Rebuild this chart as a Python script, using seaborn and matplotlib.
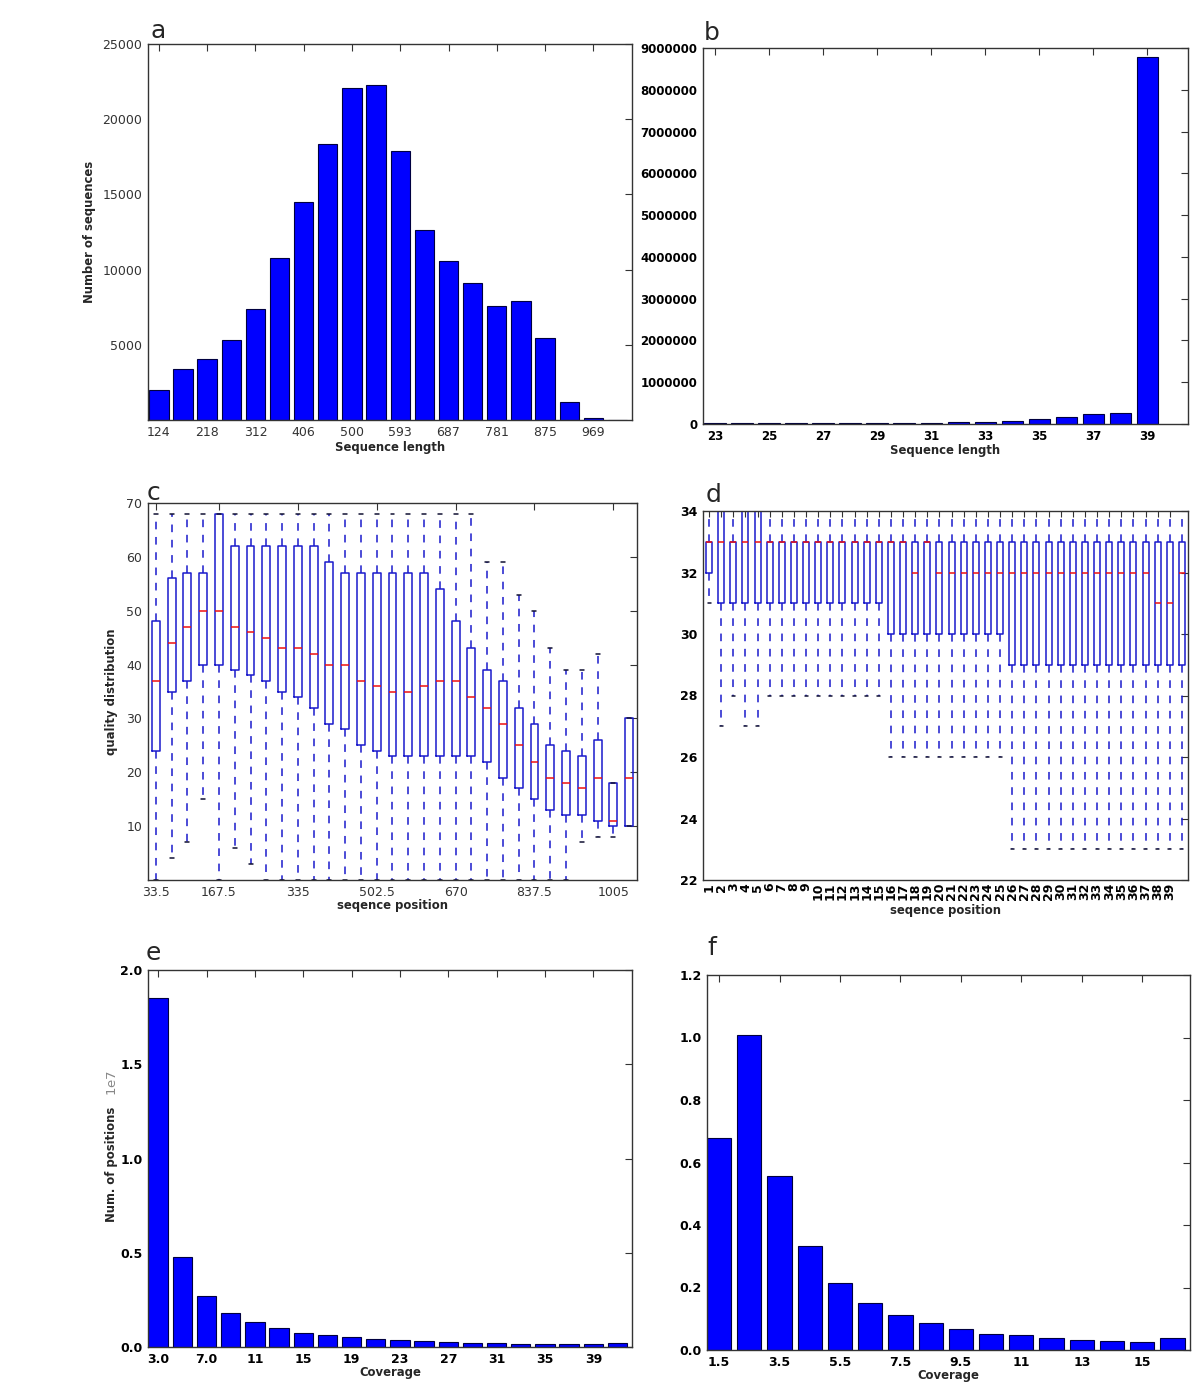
import numpy as np
import pandas as pd
import matplotlib
matplotlib.use("Agg")
import matplotlib.pyplot as plt
import seaborn as sns

# ---------------- data ----------------
# panel a: sequence length histogram (20 bins)
a_tick_labels = ['124', '218', '312', '406', '500', '593', '687', '781', '875', '969']
a_counts = [1970, 3400, 4050, 5350, 7370, 10750, 14500, 18380, 22060, 22300,
            17880, 12650, 10580, 9140, 7610, 7880, 5460, 1190, 110, 20]

# panel b: read length counts 23..39
b_lengths = list(range(23, 40))
b_counts = [15000, 25000, 28000, 28000, 30000, 30000, 30000, 32000, 35000,
            50000, 55000, 80000, 125000, 170000, 250000, 270000, 8780000]

# panel c: quality per position (five-number summaries), 31 positions
c_tick_labels = ['33.5', '167.5', '335', '502.5', '670', '837.5', '1005']
c_low = [0, 4, 7, 15, 0, 6, 3, 0, 0, 0, 0, 0, 0, 0, 0, 0, 0, 0, 0, 0,
         0, 0, 0, 0, 0, 0, 0, 7, 8, 8, 10]
c_q1 = [24, 35, 37, 40, 40, 39, 38, 37, 35, 34, 32, 29, 28, 25, 24, 23, 23, 23, 23, 23,
        23, 22, 19, 17, 15, 13, 12, 12, 11, 10, 10]
c_med = [37, 44, 47, 50, 50, 47, 46, 45, 43, 43, 42, 40, 40, 37, 36, 35, 35, 36, 37, 37,
         34, 32, 29, 25, 22, 19, 18, 17, 19, 11, 19]
c_q3 = [48, 56, 57, 57, 68, 62, 62, 62, 62, 62, 62, 59, 57, 57, 57, 57, 57, 57, 54, 48,
        43, 39, 37, 32, 29, 25, 24, 23, 26, 18, 30]
c_high = [68, 68, 68, 68, 68, 68, 68, 68, 68, 68, 68, 68, 68, 68, 68, 68, 68, 68, 68, 68,
          68, 59, 59, 53, 50, 43, 39, 39, 42, 18, 30]

# panel d: quality per position (five-number summaries), 40 positions
d_tick_labels = [str(i) for i in range(1, 40)]
d_low = [31, 27, 28, 27, 27] + [28] * 10 + [26] * 10 + [23] * 15
d_q1 = [32] + [31] * 14 + [30] * 10 + [29] * 15
d_med = [33] * 17 + [32, 33] + [32] * 18 + [31, 31, 32]
d_q3 = [33, 34, 33, 34, 34] + [33] * 35
d_high = [34] * 40

# panel e: coverage distribution
e_tick_labels = ['3.0', '7.0', '11', '15', '19', '23', '27', '31', '35', '39']
e_counts = [18520000, 4760000, 2720000, 1810000, 1330000, 996000, 747000, 622000,
            516000, 410000, 370000, 340000, 280000, 230000, 230000, 180000, 180000,
            180000, 140000, 200000]

# panel f: coverage distribution
f_tick_labels = ['1.5', '3.5', '5.5', '7.5', '9.5', '11', '13', '15']
f_values = [0.680, 1.007, 0.558, 0.3325, 0.213, 0.150, 0.113, 0.0874, 0.067, 0.052,
            0.047, 0.038, 0.033, 0.028, 0.0245, 0.038]

# ---------------- style ----------------
sns.set_style("white")
plt.rcParams['font.family'] = ['DejaVu Sans']
BAR = '#0000ff'
EDGE = '#000040'
SPINE = '#333333'

fig = plt.figure(figsize=(12, 13.97), dpi=100)
W, H = 1200.0, 1397.0


def axes_px(left, top, right, bottom):
    return fig.add_axes([left / W, 1 - bottom / H, (right - left) / W, (bottom - top) / H])


def style_axes(ax, bold, size):
    for s in ax.spines.values():
        s.set_visible(True)
        s.set_color(SPINE)
        s.set_linewidth(1.0)
    ax.tick_params(which='both', direction='in', top=True, right=True,
                   length=5, width=0.8, color=SPINE, labelsize=size,
                   labelcolor='#333333' if not bold else 'black', pad=4)
    for lab in ax.get_xticklabels() + ax.get_yticklabels():
        lab.set_fontweight('bold' if bold else 'normal')


def bars(ax, values):
    df = pd.DataFrame({'i': list(range(len(values))), 'v': values})
    sns.barplot(data=df, x='i', y='v', color=BAR, saturation=1, width=0.8,
                edgecolor=EDGE, linewidth=0.8, errorbar=None, ax=ax)
    ax.set_xlabel('')
    ax.set_ylabel('')


def boxes(ax, low, q1, med, q3, high, width):
    rows = []
    for i, vals in enumerate(zip(low, q1, med, q3, high)):
        for v in vals:
            rows.append((i, v))
    df = pd.DataFrame(rows, columns=['pos', 'q'])
    sns.boxplot(data=df, x='pos', y='q', fill=False, color='#1a1acc', width=width,
                whis=(0, 100), showfliers=False, linewidth=1.1,
                medianprops={'color': '#ee1111', 'linewidth': 1.1},
                whiskerprops={'color': '#1a1acc', 'linestyle': (0, (5, 5)), 'linewidth': 1.1},
                capprops={'color': '#111133', 'linewidth': 1.1},
                ax=ax)
    ax.set_xlabel('')
    ax.set_ylabel('')


lab_kw = dict(fontsize=8.4, fontweight='bold')

# ---- a ----
ax = axes_px(148, 44, 632, 420)
bars(ax, a_counts)
ax.set_xlim(-0.45, len(a_counts) - 0.4)
ax.set_ylim(0, 25000)
ax.set_yticks([5000, 10000, 15000, 20000, 25000])
ax.set_yticklabels(['5000', '10000', '15000', '20000', '25000'])
ax.set_xticks(list(range(0, len(a_counts), 2)))
ax.set_xticklabels(a_tick_labels)
style_axes(ax, False, 9)
ax.set_xlabel('Sequence length', labelpad=2, **lab_kw)
ax.set_ylabel('Number of sequences', labelpad=5, **lab_kw)

# ---- b ----
ax = axes_px(703, 48, 1188, 424)
bars(ax, b_counts)
ax.set_xlim(-0.45, len(b_counts) + 0.5)
ax.set_ylim(0, 9000000)
ax.set_yticks(list(range(0, 9000001, 1000000)))
ax.set_yticklabels([str(v) for v in range(0, 9000001, 1000000)])
ax.set_xticks(list(range(0, len(b_counts), 2)))
ax.set_xticklabels([str(v) for v in b_lengths[::2]])
style_axes(ax, True, 8.5)
ax.set_xlabel('Sequence length', labelpad=1, **lab_kw)

# ---- c ----
ax = axes_px(148, 503, 637, 880)
boxes(ax, c_low, c_q1, c_med, c_q3, c_high, 0.5)
ax.set_xlim(-0.5, len(c_low) - 0.5)
ax.set_ylim(0, 70)
ax.set_yticks([10, 20, 30, 40, 50, 60, 70])
ax.set_yticklabels(['10', '20', '30', '40', '50', '60', '70'])
ax.set_xticks([0, 4, 9, 14, 19, 24, 29])
ax.set_xticklabels(c_tick_labels)
style_axes(ax, False, 9)
ax.set_xlabel('seqence position', labelpad=0, **lab_kw)
ax.set_ylabel('quality distribution', labelpad=6, **lab_kw)

# ---- d ----
ax = axes_px(703, 511, 1188, 880)
boxes(ax, d_low, d_q1, d_med, d_q3, d_high, 0.5)
ax.set_xlim(-0.5, len(d_low) - 0.5)
ax.set_ylim(22, 34)
ax.set_yticks([22, 24, 26, 28, 30, 32, 34])
ax.set_yticklabels(['22', '24', '26', '28', '30', '32', '34'])
ax.set_xticks(list(range(len(d_tick_labels))))
ax.set_xticklabels(d_tick_labels, rotation=90)
style_axes(ax, True, 9)
ax.tick_params(axis='x', length=4, pad=2)
ax.set_xlabel('seqence position', labelpad=3, **lab_kw)

# ---- e ----
ax = axes_px(148, 970, 632, 1347)
bars(ax, e_counts)
ax.set_xlim(-0.42, len(e_counts) - 0.4)
ax.set_ylim(0, 20000000)
ax.set_yticks([0, 5000000, 10000000, 15000000, 20000000])
ax.set_yticklabels(['0.0', '0.5', '1.0', '1.5', '2.0'])
ax.set_xticks(list(range(0, len(e_counts), 2)))
ax.set_xticklabels(e_tick_labels)
style_axes(ax, True, 9)
ax.set_xlabel('Coverage', labelpad=0, **lab_kw)
ax.set_ylabel('Num. of positions', **lab_kw)
ax.yaxis.set_label_coords(-0.076, 0.485)
ax.yaxis.label.set_va('center')
ax.text(-0.074, 0.70, r'$\mathrm{1e7}$', transform=ax.transAxes, rotation=90,
        fontsize=9.5, color='#888888', ha='center', va='center')

# ---- f ----
ax = axes_px(707, 975, 1190, 1350)
bars(ax, f_values)
ax.set_xlim(-0.4, len(f_values) - 0.42)
ax.set_ylim(0, 1.2)
ax.set_yticks([0.0, 0.2, 0.4, 0.6, 0.8, 1.0, 1.2])
ax.set_yticklabels(['0.0', '0.2', '0.4', '0.6', '0.8', '1.0', '1.2'])
ax.set_xticks(list(range(0, len(f_values), 2)))
ax.set_xticklabels(f_tick_labels)
style_axes(ax, True, 9)
ax.set_xlabel('Coverage', labelpad=0, **lab_kw)

# panel letters
for letter, x, y in [('a', 150, 38), ('b', 704, 40), ('c', 147, 500),
                     ('d', 706, 502), ('e', 146, 960), ('f', 707, 955)]:
    fig.text(x / W, 1 - y / H, letter, fontsize=18, ha='left', va='baseline')

fig.savefig('out.png', dpi=100)
